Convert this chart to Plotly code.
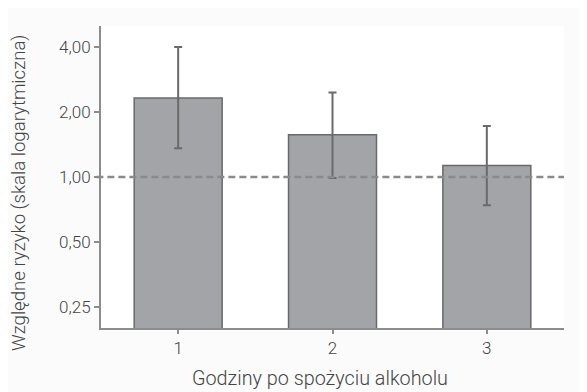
import plotly.graph_objects as go

categories = [1, 2, 3]
relative_risk = [2.32, 1.57, 1.13]
ci_upper = [4.0, 2.46, 1.72]
ci_lower = [1.36, 0.99, 0.74]
tick_values = [0.25, 0.5, 1.0, 2.0, 4.0]
tick_labels = ["0,25", "0,50", "1,00", "2,00", "4,00"]
x_title = "Godziny po spożyciu alkoholu"
y_title = "Względne ryzyko (skala logarytmiczna)"

err_plus = [u - v for u, v in zip(ci_upper, relative_risk)]
err_minus = [v - l for v, l in zip(relative_risk, ci_lower)]

fig = go.Figure()
fig.add_trace(go.Bar(
    x=categories, y=relative_risk, width=0.57,
    marker=dict(color="#a3a4a8", line=dict(color="#68696b", width=1.5)),
    error_y=dict(type="data", symmetric=False, array=err_plus, arrayminus=err_minus,
                 color="#6a6a6a", thickness=2, width=4),
    showlegend=False,
))

fig.add_shape(type="line", xref="paper", x0=-0.01, x1=1.0, yref="y", y0=1, y1=1,
              line=dict(color="#8a8a8a", width=2.5, dash="7px,4px"), layer="above")

font_family = "Roboto, Liberation Sans, Arial, sans-serif"
tick_font = dict(family=font_family, color="#444444", size=17, weight=300)
x_title_font = dict(family=font_family, color="#444444", size=19.8, weight=300)
y_title_font = dict(family=font_family, color="#444444", size=18.6, weight=300)

fig.add_annotation(text=x_title, xref="paper", yref="paper", x=0.473, y=-0.1656,
                   xanchor="center", yanchor="middle", showarrow=False, font=x_title_font)
fig.add_annotation(text=y_title, xref="paper", yref="paper", x=-0.1771, y=0.447,
                   xanchor="center", yanchor="middle", textangle=-90, showarrow=False,
                   font=y_title_font)

fig.update_layout(
    width=587, height=392,
    margin=dict(l=93, r=31, t=18, b=72, autoexpand=False),
    paper_bgcolor="#fbfbfb", plot_bgcolor="#ffffff",
    font=tick_font,
    xaxis=dict(range=[0.5, 3.5], tickvals=categories, ticktext=[str(c) for c in categories],
               automargin=False, tickfont=tick_font,
               showline=True, linecolor="#8c8c8c", linewidth=2, showgrid=False, zeroline=False,
               ticks="outside", ticklen=4, tickcolor="#8c8c8c", tickwidth=2),
    yaxis=dict(type="log", range=[-0.69897, 0.69897], tickvals=tick_values, ticktext=tick_labels,
               automargin=False, tickfont=tick_font,
               showline=True, linecolor="#8c8c8c", linewidth=2, showgrid=False, zeroline=False,
               ticks="outside", ticklen=5, tickcolor="#8c8c8c", tickwidth=2),
)

fig.write_html("out.html")
